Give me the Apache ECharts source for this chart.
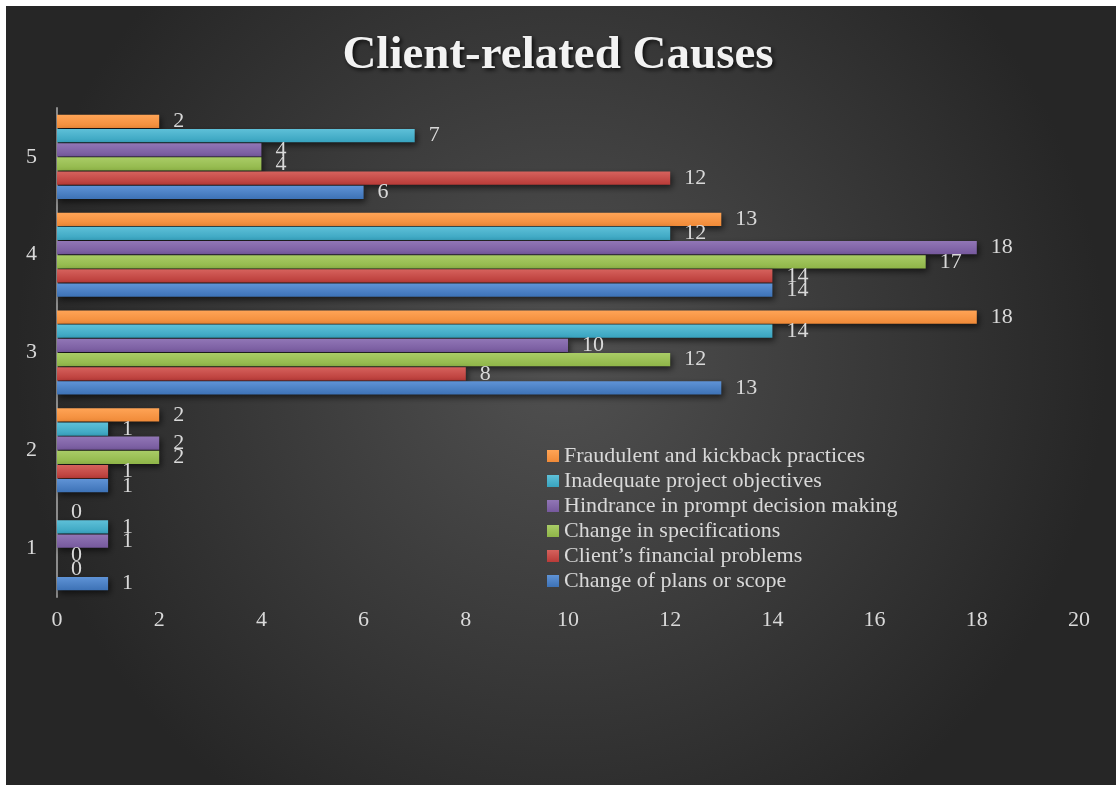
<!DOCTYPE html>
<html>
<head>
<meta charset="utf-8">
<script src="https://cdn.jsdelivr.net/npm/echarts@6/dist/echarts.min.js"></script>
<style>
html,body{margin:0;padding:0;background:#fff;}
#chart{width:1116px;height:785px;}
</style>
</head>
<body>
<div id="chart"></div>
<script>
const categories = ['1', '2', '3', '4', '5'];
const seriesNames = [
  'Fraudulent and kickback practices',
  'Inadequate project objectives',
  'Hindrance in prompt decision making',
  'Change in specifications',
  'Client\u2019s financial problems',
  'Change of plans or scope'
];
const fraudulent = [0, 2, 18, 13, 2];
const inadequateObjectives = [1, 1, 14, 12, 7];
const hindrance = [1, 2, 10, 18, 4];
const changeInSpecs = [0, 2, 12, 17, 4];
const financialProblems = [0, 1, 8, 14, 12];
const changeOfPlans = [1, 1, 13, 14, 6];
const xTicks = [0, 2, 4, 6, 8, 10, 12, 14, 16, 18, 20];

const values = [fraudulent, inadequateObjectives, hindrance, changeInSpecs, financialProblems, changeOfPlans];
const colorPairs = [
  ['#ffa456', '#f08a38'],
  ['#5ec0d8', '#38a3bf'],
  ['#9176b6', '#76599d'],
  ['#a9cc66', '#8fb548'],
  ['#d6625d', '#b93b38'],
  ['#5f93d6', '#3d72b6']
];
const legendColors = ['#f79646', '#4bacc6', '#8064a2', '#9bbb59', '#c0504d', '#4f81bd'];
const font = '"Liberation Serif", "Times New Roman", serif';

const chart = echarts.init(document.getElementById('chart'));
const series = seriesNames.map((name, i) => ({
  name: name,
  type: 'bar',
  data: values[i],
  barGap: '7%',
  barCategoryGap: '14%',
  itemStyle: {
    color: new echarts.graphic.LinearGradient(0, 0, 0, 1, [
      {offset: 0, color: colorPairs[i][0]},
      {offset: 1, color: colorPairs[i][1]}
    ]),
    shadowColor: 'rgba(0,0,0,0.6)',
    shadowBlur: 6,
    shadowOffsetX: 2,
    shadowOffsetY: 3
  },
  label: {
    show: true,
    position: 'right',
    distance: 14,
    color: '#d9d9d9',
    fontFamily: font,
    fontSize: 22
  }
}));

chart.setOption({
  backgroundColor: '#ffffff',
  color: legendColors,
  graphic: [{
    type: 'rect',
    z: -100,
    silent: true,
    shape: {x: 6, y: 6, width: 1110, height: 779},
    style: {
      fill: new echarts.graphic.RadialGradient(0.5, 0.45, 0.7, [
        {offset: 0, color: '#515151'},
        {offset: 1, color: '#262626'}
      ])
    }
  }],
  title: {
    text: 'Client-related Causes',
    left: 'center',
    top: 27,
    textStyle: {
      fontFamily: font,
      fontWeight: 'bold',
      fontSize: 47,
      color: '#f2f2f2',
      textShadowColor: 'rgba(0,0,0,0.8)',
      textShadowBlur: 4,
      textShadowOffsetX: 2,
      textShadowOffsetY: 2
    }
  },
  legend: {
    orient: 'vertical',
    left: 542,
    top: 440,
    itemWidth: 12,
    itemHeight: 12,
    itemGap: 3,
    icon: 'rect',
    data: seriesNames.slice(),
    textStyle: {
      fontFamily: font,
      fontSize: 22,
      color: '#d9d9d9'
    }
  },
  grid: {
    left: 57,
    right: 37,
    top: 108,
    bottom: 188,
    containLabel: false
  },
  xAxis: {
    type: 'value',
    min: 0,
    max: 20,
    interval: 2,
    axisLine: {show: false},
    axisTick: {show: false},
    splitLine: {show: false},
    axisLabel: {
      color: '#d9d9d9',
      fontFamily: font,
      fontSize: 22,
      margin: 12,
      formatter: v => xTicks.includes(v) ? String(v) : ''
    }
  },
  yAxis: {
    type: 'category',
    data: categories,
    axisLine: {show: true, lineStyle: {color: '#8c8c8c', width: 2}},
    axisTick: {show: false},
    splitLine: {show: false},
    axisLabel: {
      color: '#d9d9d9',
      fontFamily: font,
      fontSize: 22,
      margin: 20
    }
  },
  series: series
});
</script>
</body>
</html>
